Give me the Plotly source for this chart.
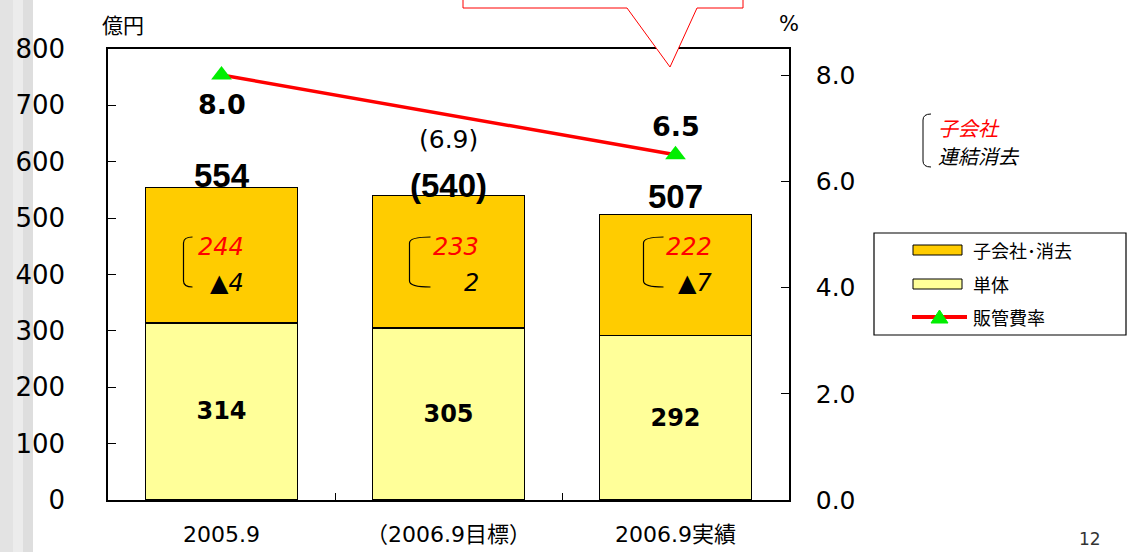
import plotly.graph_objects as go

# ---------------- data ----------------
categories = ["2005.9", "（2006.9目標）", "2006.9実績"]
tandai = [314, 305, 292]              # 単体
totals = [554, 540, 507]              # 合計
subsidiary = [244, 233, 222]          # 子会社
elimination = ["▲4", "2", "▲7"]      # 連結消去
rate = [8.0, 6.9, 6.5]                # 販管費率 (%)
is_target = [False, True, False]
total_labels = ["554", "(540)", "507"]
rate_labels = ["8.0", "(6.9)", "6.5"]
left_ticks = [0, 100, 200, 300, 400, 500, 600, 700, 800]
right_ticks = [0.0, 2.0, 4.0, 6.0, 8.0]

sub_elim = [t - s for t, s in zip(totals, tandai)]   # 子会社・消去
line_x = [c for c, t in zip(categories, is_target) if not t]
line_y = [r for r, t in zip(rate, is_target) if not t]

# ---------------- layout helpers ----------------
W, H = 1127, 552
L, R, T, B = 108, 789, 49, 500


def px(x):
    return (x - L) / (R - L)


def py(y):
    return (B - y) / (B - T)


def cat_center(i):
    return L + (i + 0.5) * (R - L) / len(categories)


NUM = "DejaVu Sans"
JP = "Noto Sans CJK JP"
MIX = "DejaVu Sans, Noto Sans CJK JP"
ARIAL = "Liberation Sans, Arial"

ORANGE = "#FFCC00"
YELLOW = "#FFFF99"

fig = go.Figure()
fig.add_trace(go.Bar(
    x=categories, y=tandai, name="単体",
    marker=dict(color=YELLOW, line=dict(color="black", width=1.2)),
    text=[str(v) for v in tandai], textposition="inside",
    insidetextanchor="middle", textangle=0,
    textfont=dict(family=NUM, size=24, color="black", weight="bold"),
    showlegend=False, hoverinfo="skip",
))
fig.add_trace(go.Bar(
    x=categories, y=sub_elim, name="子会社･消去",
    marker=dict(color=ORANGE, line=dict(color="black", width=1.2)),
    showlegend=False, hoverinfo="skip",
))
fig.add_trace(go.Scatter(
    x=line_x, y=line_y, yaxis="y2", mode="lines+markers", name="販管費率",
    line=dict(color="#FF0000", width=3.5),
    marker=dict(symbol="triangle-up", size=18, color="#00EE00"),
    showlegend=False, hoverinfo="skip",
))

annotations = []
shapes = []

# total labels above bars (x given as category index)
total_shift = [12, 10, 18]
for i, (v, lab) in enumerate(zip(totals, total_labels)):
    annotations.append(dict(
        x=i, y=v, xref="x", yref="y", text=lab, showarrow=False,
        yanchor="middle", yshift=total_shift[i],
        font=dict(family=ARIAL, size=33, color="black", weight="bold")))

# rate labels
rate_shift = [-29, -6, 28]
rate_weight = ["bold", "normal", "bold"]
for i, (v, lab) in enumerate(zip(rate, rate_labels)):
    annotations.append(dict(
        x=i, y=v, xref="x", yref="y2", text=lab, showarrow=False,
        yanchor="middle", yshift=rate_shift[i],
        font=dict(family=NUM, size=27 if rate_weight[i] == "bold" else 25,
                  color="black", weight=rate_weight[i])))

# in-bar breakdown (子会社 / 連結消去) with bracket
text_right = [24, 32, 38]
br_left = [-38, -39, -32]
br_right = [-29, -18, -12]
for i, (s, e) in enumerate(zip(subsidiary, elimination)):
    annotations.append(dict(
        x=i, y=448, xref="x", yref="y", text=str(s), showarrow=False,
        xanchor="right", xshift=text_right[i], yanchor="middle",
        font=dict(family=NUM, size=24, color="#FF0000", style="italic")))
    annotations.append(dict(
        x=i, y=385, xref="x", yref="y", text=e, showarrow=False,
        xanchor="right", xshift=text_right[i], yanchor="middle",
        font=dict(family=NUM, size=24, color="black", style="italic")))
    cx = cat_center(i)
    xl, xr = px(cx + br_left[i]), px(cx + br_right[i])
    yt, yb = py(237), py(287)
    r = 6 / (B - T)
    shapes.append(dict(
        type="path", xref="paper", yref="paper",
        path=f"M {xr},{yt} Q {xl},{yt} {xl},{yt - r} L {xl},{yb + r} Q {xl},{yb} {xr},{yb}",
        line=dict(color="black", width=1.2)))

# axis titles
annotations.append(dict(x=px(123), y=py(24), xref="paper", yref="paper", text="億円",
                        xanchor="center", yanchor="middle",
                        showarrow=False, font=dict(family=JP, size=21, color="black")))
annotations.append(dict(x=px(789), y=py(24), xref="paper", yref="paper", text="%",
                        xanchor="center", yanchor="middle",
                        showarrow=False, font=dict(family=NUM, size=21, color="black")))

# top-right note
shapes.append(dict(
    type="path", xref="paper", yref="paper",
    path=f"M {px(931)},{py(114)} Q {px(923)},{py(114)} {px(923)},{py(120)} "
         f"L {px(923)},{py(161)} Q {px(923)},{py(167)} {px(931)},{py(167)}",
    line=dict(color="black", width=1)))
annotations.append(dict(x=px(936), y=py(127), xref="paper", yref="paper", text="子会社",
                        xanchor="left", yanchor="middle", showarrow=False,
                        font=dict(family=JP, size=20, color="#FF0000", style="italic")))
annotations.append(dict(x=px(936), y=py(155), xref="paper", yref="paper", text="連結消去",
                        xanchor="left", yanchor="middle", showarrow=False,
                        font=dict(family=JP, size=20, color="black", style="italic")))

# manual legend
shapes.append(dict(type="rect", xref="paper", yref="paper",
                   x0=px(874), x1=px(1126), y0=py(233), y1=py(335),
                   line=dict(color="black", width=1.2), fillcolor="white"))
shapes.append(dict(type="rect", xref="paper", yref="paper",
                   x0=px(913), x1=px(962), y0=py(245), y1=py(255),
                   line=dict(color="black", width=1), fillcolor=ORANGE))
shapes.append(dict(type="rect", xref="paper", yref="paper",
                   x0=px(913), x1=px(962), y0=py(279), y1=py(289),
                   line=dict(color="black", width=1), fillcolor=YELLOW))
shapes.append(dict(type="line", xref="paper", yref="paper",
                   x0=px(912), x1=px(967), y0=py(317), y1=py(317),
                   line=dict(color="#FF0000", width=4)))
shapes.append(dict(type="path", xref="paper", yref="paper",
                   path=f"M {px(931)},{py(323)} L {px(948)},{py(323)} L {px(939.5)},{py(310)} Z",
                   line=dict(color="#00EE00", width=1), fillcolor="#00EE00"))
legend_items = ["子会社･消去", "単体", "販管費率"]
legend_y = [250, 284, 317]
for lab, yy in zip(legend_items, legend_y):
    annotations.append(dict(x=px(971), y=py(yy), xref="paper", yref="paper", text=lab,
                            xanchor="left", yanchor="middle", showarrow=False,
                            font=dict(family=JP, size=18, color="black")))

# callout box at top
shapes.append(dict(
    type="path", xref="paper", yref="paper",
    path=f"M {px(463)},{py(-5)} L {px(463)},{py(8)} L {px(627)},{py(8)} L {px(670)},{py(67)} "
         f"L {px(697)},{py(8)} L {px(743)},{py(8)} L {px(743)},{py(-5)} Z",
    line=dict(color="#FF0000", width=1), fillcolor="white", layer="above"))

# left slide stripes
for x0, x1, col in [(0, 13, "#E3E3E3"), (13, 23, "#ECECEC"), (23, 33, "#DEDEDE")]:
    shapes.append(dict(type="rect", xref="paper", yref="paper", layer="below",
                       x0=px(x0), x1=px(x1), y0=py(H + 2), y1=py(-2),
                       line=dict(width=0), fillcolor=col))

# page number
annotations.append(dict(x=px(1090), y=py(539), xref="paper", yref="paper", text="12",
                        showarrow=False, xanchor="center", yanchor="middle",
                        font=dict(family=NUM, size=17, color="#333333")))

fig.update_layout(
    width=W, height=H,
    margin=dict(l=L, r=W - R, t=T, b=H - B, pad=0, autoexpand=False),
    paper_bgcolor="white", plot_bgcolor="white",
    barmode="stack", bargap=0.33,
    showlegend=False,
    xaxis=dict(
        type="category", categoryorder="array", categoryarray=categories,
        range=[-0.5, 2.5], showline=True, linecolor="black", linewidth=1.5, mirror=True,
        ticks="inside", tickson="boundaries", ticklen=7, tickcolor="black", tickwidth=1.2,
        showgrid=False, ticklabelstandoff=14, automargin=False,
        tickfont=dict(family=MIX, size=22, color="black"),
    ),
    yaxis=dict(
        range=[0, 800], tickvals=left_ticks, ticks="inside", ticklen=8,
        tickcolor="black", tickwidth=1.2, showline=True, linecolor="black", linewidth=1.5,
        showgrid=False, zeroline=False, ticklabelstandoff=36, automargin=False,
        tickfont=dict(family=NUM, size=26, color="black"),
    ),
    yaxis2=dict(
        overlaying="y", side="right", range=[0, 8.49], tickvals=right_ticks,
        tickformat=".1f", ticks="inside", ticklen=8, tickcolor="black", tickwidth=1.2,
        showline=True, linecolor="black", linewidth=1.5, showgrid=False, zeroline=False,
        ticklabelstandoff=20, automargin=False,
        tickfont=dict(family=NUM, size=25, color="black"),
    ),
    annotations=annotations,
    shapes=shapes,
)

fig.write_html("out.html", config={"displayModeBar": False},
               post_script="document.body.style.margin='0';document.body.style.padding='0';")
